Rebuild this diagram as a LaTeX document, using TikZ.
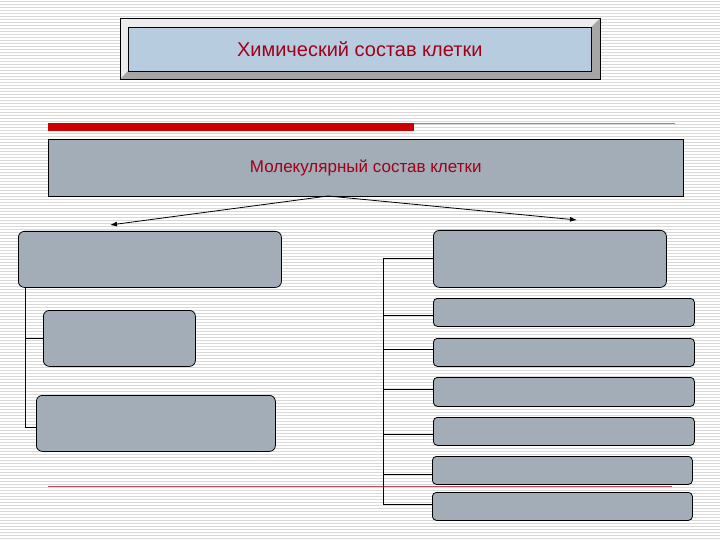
\documentclass[tikz,border=0pt]{standalone}
\usepackage{fontspec}
\setmainfont{Liberation Sans}
\usetikzlibrary{arrows.meta}
\begin{document}
\begin{tikzpicture}[x=1pt,y=-1pt,
  box/.style={draw=black,fill=boxgray,rounded corners=6pt,line width=0.8pt},
  conn/.style={draw=black,line width=0.8pt},
  lbl/.style={text=textred}]
\definecolor{boxgray}{HTML}{A3ADB8}
\definecolor{titleblue}{HTML}{B8CCE0}
\definecolor{textred}{HTML}{A00018}
\definecolor{barred}{HTML}{CC0000}
\useasboundingbox (0,0) rectangle (720,540);
\fill[white] (0,0) rectangle (720,540);
\foreach \y in {1.5,4.5,...,540} \draw[gray!30,line width=0.8pt] (0,\y) -- (720,\y);
% title
\fill[gray!70] (120,18) rectangle (600,79);
\fill[gray!15] (120,18) -- (600,18) -- (591,27) -- (128,27) -- (128,71) -- (120,79) -- cycle;
\draw[black,line width=0.8pt] (120,18) rectangle (600,79);
\node[draw=black,fill=titleblue,minimum width=463pt,minimum height=44pt,inner sep=0pt,anchor=north west,lbl,font=\fontsize{20}{24}\selectfont] (title) at (128,27) {Химический состав клетки};
% bar
\fill[barred] (48,123) rectangle (414,131);
\draw[barred!60,line width=0.6pt] (414,123) -- (675,123);
\node[draw=black,fill=boxgray,minimum width=635pt,minimum height=57pt,inner sep=0pt,anchor=north west,lbl,font=\fontsize{17}{20}\selectfont] (mol) at (48,139) {Молекулярный состав клетки};
\coordinate (top) at (328,196);
\coordinate (la) at (110,225);
\coordinate (ra) at (577,220);
\draw[conn,-{Latex[length=7pt,width=5pt]}] (top) -- (la);
\draw[conn,-{Latex[length=7pt,width=5pt]}] (top) -- (ra);
% left
\node[box,minimum width=263pt,minimum height=56pt,anchor=north west] (L1) at (18,231) {};
\node[box,minimum width=152pt,minimum height=56pt,anchor=north west] (L2) at (43,310) {};
\node[box,minimum width=239pt,minimum height=56pt,anchor=north west] (L3) at (36,395) {};
\coordinate (lv1) at (25,287);
\coordinate (lv2) at (25,338);
\coordinate (lv3) at (25,427);
\draw[conn] (lv1) -- (lv3) -- (L3.west |- lv3);
\draw[conn] (lv2) -- (L2.west |- lv2);
% right
\node[box,minimum width=233pt,minimum height=57pt,anchor=north west] (R1) at (433,230) {};
\node[box,rounded corners=4pt,minimum width=261pt,minimum height=28pt,anchor=north west] (R2) at (433,298) {};
\node[box,rounded corners=4pt,minimum width=261pt,minimum height=28pt,anchor=north west] (R3) at (433,338) {};
\node[box,rounded corners=4pt,minimum width=261pt,minimum height=29pt,anchor=north west] (R4) at (433,377) {};
\node[box,rounded corners=4pt,minimum width=261pt,minimum height=28pt,anchor=north west] (R5) at (433,417) {};
\node[box,rounded corners=4pt,minimum width=260pt,minimum height=28pt,anchor=north west] (R6) at (432,456) {};
\node[box,rounded corners=4pt,minimum width=260pt,minimum height=28pt,anchor=north west] (R7) at (432,492) {};
\draw[textred!70,line width=0.6pt] (48,486) -- (672,486);
\foreach \n/\y in {R1/258,R2/315,R3/349,R4/389,R5/434,R6/474,R7/504} {
  \coordinate (c\n) at (383,\y);
  \draw[conn] (c\n) -- (\n.west |- c\n);
}
\draw[conn] (cR1) -- (cR7);
\end{tikzpicture}
\end{document}
